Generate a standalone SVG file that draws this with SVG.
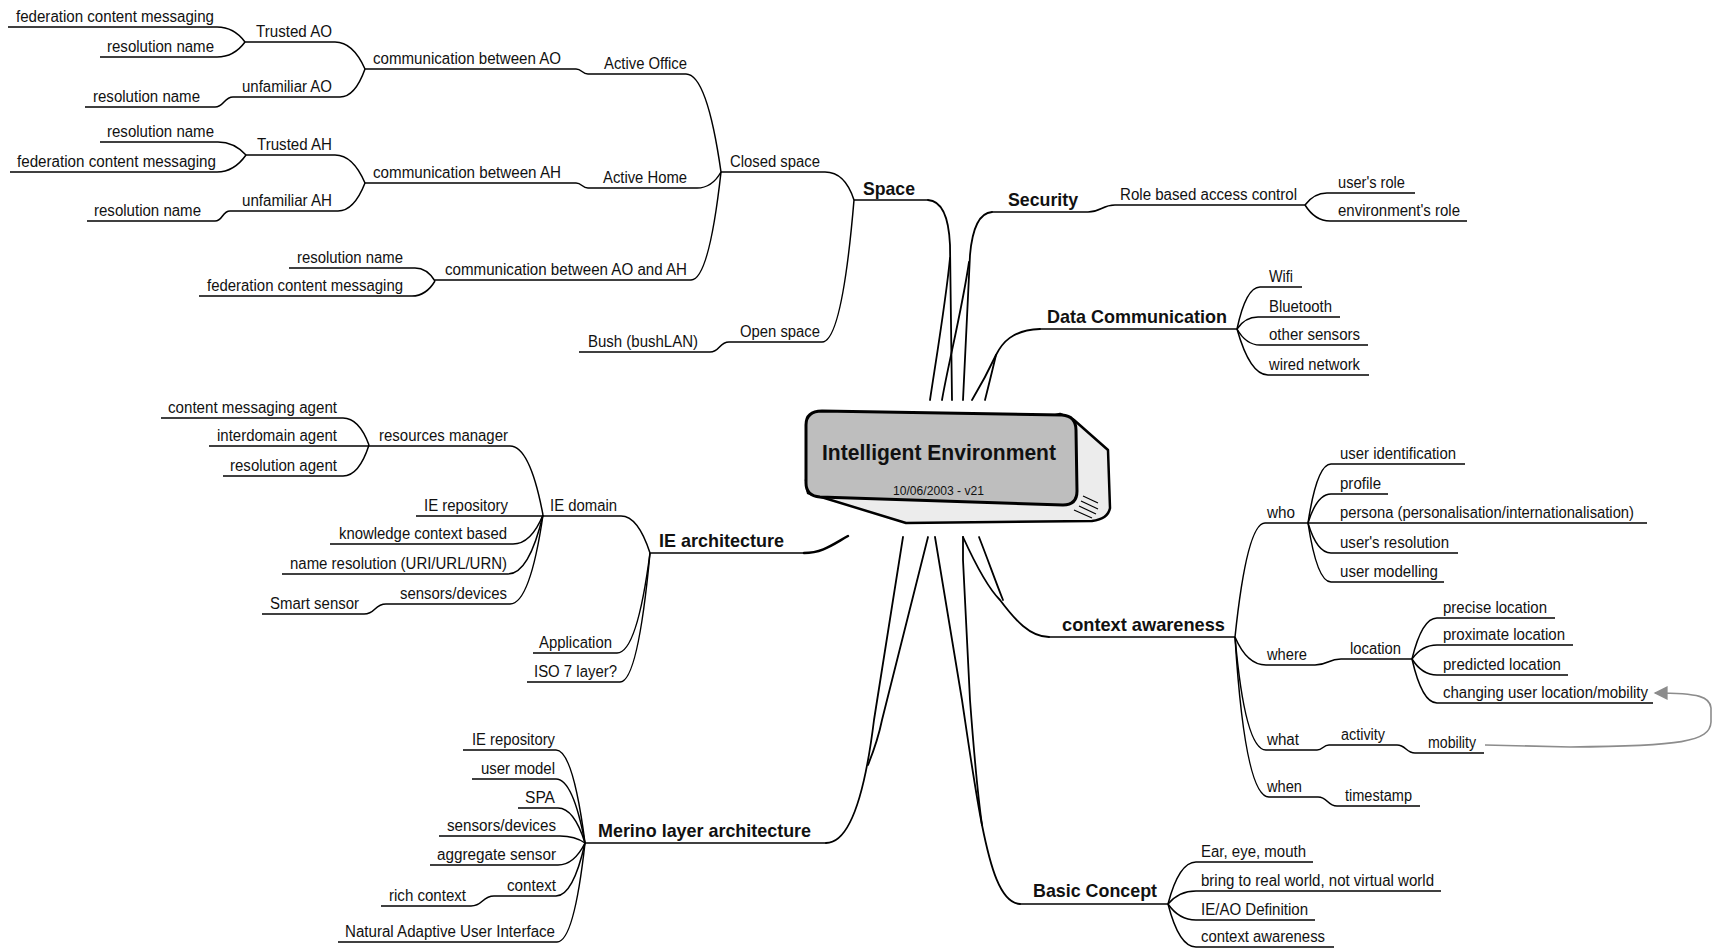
<svg xmlns="http://www.w3.org/2000/svg" width="1715" height="951" viewBox="0 0 1715 951">
<defs>
<style>
.t{font-family:"Liberation Sans",Arial,sans-serif;font-size:16px;fill:#111}
.b{font-family:"Liberation Sans",Arial,sans-serif;font-size:19px;font-weight:bold;fill:#111}
.ul{stroke:#000;stroke-width:1.7;fill:none}
.c{stroke:#000;stroke-width:1.5;fill:none}
.br{stroke:#000;stroke-width:1.8;fill:none;stroke-linecap:round}
.lnk{stroke:#8c8c8c;stroke-width:1.6;fill:none}
</style>
<marker id="tri" viewBox="0 0 10 10" refX="9" refY="5" markerUnits="userSpaceOnUse" markerWidth="16" markerHeight="14" orient="auto">
<path d="M0,0 L10,5 L0,10 z" fill="#8c8c8c"/>
</marker>
</defs>
<rect width="1715" height="951" fill="#fff"/>

<!-- branch lines and connectors -->
<g id="connectors">
<!-- main branches out of the central topic -->
<path class="br" d="M928,200 C944,201 949,222 950,245 L952,400"/>
<path class="br" d="M950,258 C946,300 936,360 930,400"/>
<path class="br" d="M992,212 C978,213 972,232 970,255 L963,400"/>
<path class="br" d="M969,262 C962,310 948,365 942,400"/>
<path class="br" d="M1040,329 C1012,330 1002,343 996,355 C988,372 978,390 972,400"/>
<path class="br" d="M996,355 C992,372 988,388 985,400"/>
<path class="br" d="M903,537 L874,720 C866,785 852,843 826,843"/>
<path class="br" d="M928,537 L882,720 C878,740 872,755 868,765"/>
<path class="br" d="M935,537 L962,700 C968,740 975,790 982,825 C990,865 1000,903 1020,904"/>
<path class="br" d="M963,537 L963,560 L970,700 C973,740 977,790 982,825"/>
<path class="br" d="M963,537 C978,570 990,590 1000,600 C1015,620 1030,637 1049,637"/>
<path class="br" d="M979,537 C988,560 995,580 1003,600"/>
<path class="br" style="stroke-width:2.5" d="M804,553 C822,553 832,545 848,536"/>
<!-- Space subtree -->
<path class="c" d="M217,27 Q234,27 245,42"/>
<path class="c" d="M217,57 Q234,57 245,42"/>
<path class="c" d="M335,42 Q353,42 365,69"/>
<path class="c" d="M340,97 Q355,97 365,69"/>
<path class="c" d="M215,107 C224,107 224,97 233,97"/>
<path class="c" d="M576,69 C582,69 582,74 588,74"/>
<path class="c" d="M686,74 Q707,74 721,172"/>
<path class="c" d="M218,142 Q234,142 246,155"/>
<path class="c" d="M217,172 Q234,172 246,155"/>
<path class="c" d="M335,155 Q353,155 365,183"/>
<path class="c" d="M338,211 Q354,211 365,183"/>
<path class="c" d="M215,221 C223,221 222,211 230,211"/>
<path class="c" d="M576,183 C582,183 582,188 588,188"/>
<path class="c" d="M697,188 Q712,188 721,172"/>
<path class="c" d="M415,268 Q427,268 435,281"/>
<path class="c" d="M412,296 Q426,296 435,281"/>
<path class="c" d="M691,280 Q709,280 721,172"/>
<path class="c" d="M825,172 Q845,172 854,200"/>
<path class="c" d="M822,342 Q842,342 854,200"/>
<path class="c" d="M710,352 C720,352 719,342 729,342"/>
<!-- Security / Data Communication -->
<path class="c" d="M1088,212 C1101,212 1102,205 1115,205"/>
<path class="c" d="M1327,193 Q1314,193 1305,205"/>
<path class="c" d="M1330,221 Q1315,221 1305,205"/>
<path class="c" d="M1260,287 Q1246,287 1237,329"/>
<path class="c" d="M1258,317 Q1245,317 1237,329"/>
<path class="c" d="M1260,345 Q1246,345 1237,329"/>
<path class="c" d="M1268,375 Q1250,375 1237,329"/>
<!-- IE architecture -->
<path class="c" d="M343,418 Q359,418 369,445"/>
<path class="c" d="M343,476 Q359,476 369,445"/>
<path class="c" d="M510,446 Q530,446 543,515"/>
<path class="c" d="M513,544 Q531,544 543,515"/>
<path class="c" d="M508,574 Q529,574 543,515"/>
<path class="c" d="M510,604 Q530,604 543,515"/>
<path class="c" d="M364,614 C376,614 374,604 386,604"/>
<path class="c" d="M621,516 Q638,516 650,553"/>
<path class="c" d="M617,653 Q637,653 650,553"/>
<path class="c" d="M620,682 Q638,682 650,553"/>
<!-- Merino layer architecture -->
<path class="c" d="M556,750 Q573,750 585,843"/>
<path class="c" d="M556,779 Q573,779 585,843"/>
<path class="c" d="M558,808 Q574,808 585,843"/>
<path class="c" d="M560,836 Q575,836 585,843"/>
<path class="c" d="M558,865 Q574,865 585,843"/>
<path class="c" d="M556,896 Q573,896 585,843"/>
<path class="c" d="M471,906 C483,906 482,896 494,896"/>
<path class="c" d="M557,942 Q574,942 585,843"/>
<!-- context awareness -->
<path class="c" d="M1265,523 Q1247,523 1235,637"/>
<path class="c" d="M1266,665 Q1247,665 1235,637"/>
<path class="c" d="M1266,750 Q1245,750 1235,637"/>
<path class="c" d="M1269,797 Q1245,797 1235,637"/>
<path class="c" d="M1315,665 C1328,665 1328,659 1341,659"/>
<path class="c" d="M1317,750 C1323,750 1323,745 1329,745"/>
<path class="c" d="M1318,797 C1328,797 1327,806 1337,806"/>
<path class="c" d="M1397,745 C1406,745 1406,753 1415,753"/>
<path class="c" d="M1331,464 Q1317,464 1308,523"/>
<path class="c" d="M1331,494 Q1317,494 1308,523"/>
<path class="c" d="M1331,553 Q1317,553 1308,523"/>
<path class="c" d="M1331,582 Q1317,582 1308,523"/>
<path class="c" d="M1437,618 Q1422,618 1412,659"/>
<path class="c" d="M1437,645 Q1422,645 1412,659"/>
<path class="c" d="M1437,675 Q1422,675 1412,659"/>
<path class="c" d="M1437,703 Q1422,703 1412,659"/>
<!-- Basic Concept -->
<path class="c" d="M1196,862 Q1179,862 1168,904"/>
<path class="c" d="M1196,891 Q1179,891 1168,904"/>
<path class="c" d="M1196,920 Q1179,920 1168,904"/>
<path class="c" d="M1196,947 Q1179,947 1168,904"/>
<!-- relationship link: mobility -> changing user location/mobility -->
<path class="lnk" marker-end="url(#tri)" d="M1485,745 L1570,747 C1680,746 1710,742 1711,722 L1711,708 C1710,697 1700,693 1655,693"/>
</g>

<!-- central topic -->
<g id="intelligent-environment">
<path d="M1060,414 L1074,420 L1108,450 L1110,508 Q1108,519 1092,521 L906,523 L808,493 L806,480 Z" fill="#ececec" stroke="#000" stroke-width="2.5" stroke-linejoin="round"/>
<path d="M822,411 L1062,415 Q1076,416 1076,430 L1077,491 Q1077,505 1063,505 L820,497 Q806,496 806,483 L806,425 Q806,411 822,411 Z" fill="#bebebe" stroke="#000" stroke-width="3"/>
<path d="M1083,496 L1098,503 M1081,501 L1098,509 M1079,506 L1096,514 M1074,510 L1092,518" stroke="#000" stroke-width="1.2"/>
<text class="b" x="822" y="460" style="font-size:22px" textLength="234" lengthAdjust="spacingAndGlyphs">Intelligent Environment</text>
<text class="t" x="893" y="495" style="font-size:13px" textLength="91" lengthAdjust="spacingAndGlyphs">10/06/2003 - v21</text>
</g>

<!-- Space -->
<g id="space"><text class="b" x="863" y="195" textLength="52" lengthAdjust="spacingAndGlyphs">Space</text><path class="ul" d="M854,200 H928"/></g>
<g id="closed-space"><text class="t" x="730" y="167" textLength="90" lengthAdjust="spacingAndGlyphs">Closed space</text><path class="ul" d="M721,172 H825"/></g>
<g id="open-space"><text class="t" x="740" y="337" textLength="80" lengthAdjust="spacingAndGlyphs">Open space</text><path class="ul" d="M729,342 H822"/></g>
<g id="bush"><text class="t" x="588" y="347" textLength="110" lengthAdjust="spacingAndGlyphs">Bush (bushLAN)</text><path class="ul" d="M579,352 H710"/></g>
<g id="active-office"><text class="t" x="604" y="69" textLength="83" lengthAdjust="spacingAndGlyphs">Active Office</text><path class="ul" d="M588,74 H686"/></g>
<g id="active-home"><text class="t" x="603" y="183" textLength="84" lengthAdjust="spacingAndGlyphs">Active Home</text><path class="ul" d="M588,188 H697"/></g>
<g id="comm-ao-ah"><text class="t" x="445" y="275" textLength="242" lengthAdjust="spacingAndGlyphs">communication between AO and AH</text><path class="ul" d="M435,280 H691"/></g>
<g id="comm-ao-ah-resolution"><text class="t" x="297" y="263" textLength="106" lengthAdjust="spacingAndGlyphs">resolution name</text><path class="ul" d="M289,268 H415"/></g>
<g id="comm-ao-ah-federation"><text class="t" x="207" y="291" textLength="196" lengthAdjust="spacingAndGlyphs">federation content messaging</text><path class="ul" d="M199,296 H412"/></g>
<g id="comm-ao"><text class="t" x="373" y="64" textLength="188" lengthAdjust="spacingAndGlyphs">communication between AO</text><path class="ul" d="M365,69 H576"/></g>
<g id="trusted-ao"><text class="t" x="256" y="37" textLength="76" lengthAdjust="spacingAndGlyphs">Trusted AO</text><path class="ul" d="M245,42 H335"/></g>
<g id="trusted-ao-federation"><text class="t" x="16" y="22" textLength="198" lengthAdjust="spacingAndGlyphs">federation content messaging</text><path class="ul" d="M8,27 H217"/></g>
<g id="trusted-ao-resolution"><text class="t" x="107" y="52" textLength="107" lengthAdjust="spacingAndGlyphs">resolution name</text><path class="ul" d="M100,57 H217"/></g>
<g id="unfamiliar-ao"><text class="t" x="242" y="92" textLength="90" lengthAdjust="spacingAndGlyphs">unfamiliar AO</text><path class="ul" d="M233,97 H340"/></g>
<g id="unfamiliar-ao-resolution"><text class="t" x="93" y="102" textLength="107" lengthAdjust="spacingAndGlyphs">resolution name</text><path class="ul" d="M85,107 H215"/></g>
<g id="comm-ah"><text class="t" x="373" y="178" textLength="188" lengthAdjust="spacingAndGlyphs">communication between AH</text><path class="ul" d="M365,183 H576"/></g>
<g id="trusted-ah"><text class="t" x="257" y="150" textLength="75" lengthAdjust="spacingAndGlyphs">Trusted AH</text><path class="ul" d="M246,155 H335"/></g>
<g id="trusted-ah-resolution"><text class="t" x="107" y="137" textLength="107" lengthAdjust="spacingAndGlyphs">resolution name</text><path class="ul" d="M100,142 H218"/></g>
<g id="trusted-ah-federation"><text class="t" x="17" y="167" textLength="199" lengthAdjust="spacingAndGlyphs">federation content messaging</text><path class="ul" d="M10,172 H217"/></g>
<g id="unfamiliar-ah"><text class="t" x="242" y="206" textLength="90" lengthAdjust="spacingAndGlyphs">unfamiliar AH</text><path class="ul" d="M230,211 H338"/></g>
<g id="unfamiliar-ah-resolution"><text class="t" x="94" y="216" textLength="107" lengthAdjust="spacingAndGlyphs">resolution name</text><path class="ul" d="M87,221 H215"/></g>

<!-- Security -->
<g id="security"><text class="b" x="1008" y="206" textLength="70" lengthAdjust="spacingAndGlyphs">Security</text><path class="ul" d="M992,212 H1088"/></g>
<g id="rbac"><text class="t" x="1120" y="200" textLength="177" lengthAdjust="spacingAndGlyphs">Role based access control</text><path class="ul" d="M1115,205 H1305"/></g>
<g id="users-role"><text class="t" x="1338" y="188" textLength="67" lengthAdjust="spacingAndGlyphs">user's role</text><path class="ul" d="M1327,193 H1415"/></g>
<g id="environments-role"><text class="t" x="1338" y="216" textLength="122" lengthAdjust="spacingAndGlyphs">environment's role</text><path class="ul" d="M1330,221 H1467"/></g>

<!-- Data Communication -->
<g id="data-communication"><text class="b" x="1047" y="323" textLength="180" lengthAdjust="spacingAndGlyphs">Data Communication</text><path class="ul" d="M1040,329 H1237"/></g>
<g id="wifi"><text class="t" x="1269" y="282" textLength="24" lengthAdjust="spacingAndGlyphs">Wifi</text><path class="ul" d="M1260,287 H1302"/></g>
<g id="bluetooth"><text class="t" x="1269" y="312" textLength="63" lengthAdjust="spacingAndGlyphs">Bluetooth</text><path class="ul" d="M1258,317 H1340"/></g>
<g id="other-sensors"><text class="t" x="1269" y="340" textLength="91" lengthAdjust="spacingAndGlyphs">other sensors</text><path class="ul" d="M1260,345 H1368"/></g>
<g id="wired-network"><text class="t" x="1269" y="370" textLength="91" lengthAdjust="spacingAndGlyphs">wired network</text><path class="ul" d="M1268,375 H1369"/></g>

<!-- IE architecture -->
<g id="ie-architecture"><text class="b" x="659" y="547" textLength="125" lengthAdjust="spacingAndGlyphs">IE architecture</text><path class="ul" d="M650,553 H804"/></g>
<g id="ie-domain"><text class="t" x="550" y="511" textLength="67" lengthAdjust="spacingAndGlyphs">IE domain</text><path class="ul" d="M543,516 H621"/></g>
<g id="resources-manager"><text class="t" x="379" y="441" textLength="129" lengthAdjust="spacingAndGlyphs">resources manager</text><path class="ul" d="M369,446 H510"/></g>
<g id="content-messaging-agent"><text class="t" x="168" y="413" textLength="169" lengthAdjust="spacingAndGlyphs">content messaging agent</text><path class="ul" d="M161,418 H343"/></g>
<g id="interdomain-agent"><text class="t" x="217" y="441" textLength="120" lengthAdjust="spacingAndGlyphs">interdomain agent</text><path class="ul" d="M209,446 H369"/></g>
<g id="resolution-agent"><text class="t" x="230" y="471" textLength="107" lengthAdjust="spacingAndGlyphs">resolution agent</text><path class="ul" d="M223,476 H343"/></g>
<g id="ie-repository-a"><text class="t" x="424" y="511" textLength="84" lengthAdjust="spacingAndGlyphs">IE repository</text><path class="ul" d="M416,516 H543"/></g>
<g id="knowledge-context"><text class="t" x="339" y="539" textLength="168" lengthAdjust="spacingAndGlyphs">knowledge context based</text><path class="ul" d="M330,544 H513"/></g>
<g id="name-resolution"><text class="t" x="290" y="569" textLength="217" lengthAdjust="spacingAndGlyphs">name resolution (URI/URL/URN)</text><path class="ul" d="M282,574 H508"/></g>
<g id="sensors-devices-a"><text class="t" x="400" y="599" textLength="107" lengthAdjust="spacingAndGlyphs">sensors/devices</text><path class="ul" d="M386,604 H510"/></g>
<g id="smart-sensor"><text class="t" x="270" y="609" textLength="89" lengthAdjust="spacingAndGlyphs">Smart sensor</text><path class="ul" d="M262,614 H364"/></g>
<g id="application"><text class="t" x="539" y="648" textLength="73" lengthAdjust="spacingAndGlyphs">Application</text><path class="ul" d="M533,653 H617"/></g>
<g id="iso-7-layer"><text class="t" x="534" y="677" textLength="83" lengthAdjust="spacingAndGlyphs">ISO 7 layer?</text><path class="ul" d="M527,682 H620"/></g>

<!-- Merino layer architecture -->
<g id="merino"><text class="b" x="598" y="837" textLength="213" lengthAdjust="spacingAndGlyphs">Merino layer architecture</text><path class="ul" d="M585,843 H826"/></g>
<g id="ie-repository-m"><text class="t" x="472" y="745" textLength="83" lengthAdjust="spacingAndGlyphs">IE repository</text><path class="ul" d="M463,750 H556"/></g>
<g id="user-model"><text class="t" x="481" y="774" textLength="74" lengthAdjust="spacingAndGlyphs">user model</text><path class="ul" d="M472,779 H556"/></g>
<g id="spa"><text class="t" x="525" y="803" textLength="30" lengthAdjust="spacingAndGlyphs">SPA</text><path class="ul" d="M518,808 H558"/></g>
<g id="sensors-devices-m"><text class="t" x="447" y="831" textLength="109" lengthAdjust="spacingAndGlyphs">sensors/devices</text><path class="ul" d="M439,836 H560"/></g>
<g id="aggregate-sensor"><text class="t" x="437" y="860" textLength="119" lengthAdjust="spacingAndGlyphs">aggregate sensor</text><path class="ul" d="M430,865 H558"/></g>
<g id="context"><text class="t" x="507" y="891" textLength="49" lengthAdjust="spacingAndGlyphs">context</text><path class="ul" d="M494,896 H556"/></g>
<g id="rich-context"><text class="t" x="389" y="901" textLength="77" lengthAdjust="spacingAndGlyphs">rich context</text><path class="ul" d="M381,906 H471"/></g>
<g id="naui"><text class="t" x="345" y="937" textLength="210" lengthAdjust="spacingAndGlyphs">Natural Adaptive User Interface</text><path class="ul" d="M338,942 H557"/></g>

<!-- context awareness -->
<g id="context-awareness"><text class="b" x="1062" y="631" textLength="163" lengthAdjust="spacingAndGlyphs">context awareness</text><path class="ul" d="M1049,637 H1235"/></g>
<g id="who"><text class="t" x="1267" y="518" textLength="28" lengthAdjust="spacingAndGlyphs">who</text><path class="ul" d="M1265,523 H1308"/></g>
<g id="user-identification"><text class="t" x="1340" y="459" textLength="116" lengthAdjust="spacingAndGlyphs">user identification</text><path class="ul" d="M1331,464 H1465"/></g>
<g id="profile"><text class="t" x="1340" y="489" textLength="41" lengthAdjust="spacingAndGlyphs">profile</text><path class="ul" d="M1331,494 H1388"/></g>
<g id="persona"><text class="t" x="1340" y="518" textLength="294" lengthAdjust="spacingAndGlyphs">persona (personalisation/internationalisation)</text><path class="ul" d="M1308,523 H1647"/></g>
<g id="users-resolution"><text class="t" x="1340" y="548" textLength="109" lengthAdjust="spacingAndGlyphs">user's resolution</text><path class="ul" d="M1331,553 H1458"/></g>
<g id="user-modelling"><text class="t" x="1340" y="577" textLength="98" lengthAdjust="spacingAndGlyphs">user modelling</text><path class="ul" d="M1331,582 H1444"/></g>
<g id="where"><text class="t" x="1267" y="660" textLength="40" lengthAdjust="spacingAndGlyphs">where</text><path class="ul" d="M1266,665 H1315"/></g>
<g id="location"><text class="t" x="1350" y="654" textLength="51" lengthAdjust="spacingAndGlyphs">location</text><path class="ul" d="M1341,659 H1412"/></g>
<g id="precise-location"><text class="t" x="1443" y="613" textLength="104" lengthAdjust="spacingAndGlyphs">precise location</text><path class="ul" d="M1437,618 H1555"/></g>
<g id="proximate-location"><text class="t" x="1443" y="640" textLength="122" lengthAdjust="spacingAndGlyphs">proximate location</text><path class="ul" d="M1437,645 H1573"/></g>
<g id="predicted-location"><text class="t" x="1443" y="670" textLength="118" lengthAdjust="spacingAndGlyphs">predicted location</text><path class="ul" d="M1437,675 H1568"/></g>
<g id="changing-location"><text class="t" x="1443" y="698" textLength="205" lengthAdjust="spacingAndGlyphs">changing user location/mobility</text><path class="ul" d="M1437,703 H1653"/></g>
<g id="what"><text class="t" x="1267" y="745" textLength="32" lengthAdjust="spacingAndGlyphs">what</text><path class="ul" d="M1266,750 H1317"/></g>
<g id="activity"><text class="t" x="1341" y="740" textLength="44" lengthAdjust="spacingAndGlyphs">activity</text><path class="ul" d="M1329,745 H1397"/></g>
<g id="mobility"><text class="t" x="1428" y="748" textLength="48" lengthAdjust="spacingAndGlyphs">mobility</text><path class="ul" d="M1415,753 H1484"/></g>
<g id="when"><text class="t" x="1267" y="792" textLength="35" lengthAdjust="spacingAndGlyphs">when</text><path class="ul" d="M1269,797 H1318"/></g>
<g id="timestamp"><text class="t" x="1345" y="801" textLength="67" lengthAdjust="spacingAndGlyphs">timestamp</text><path class="ul" d="M1337,806 H1420"/></g>

<!-- Basic Concept -->
<g id="basic-concept"><text class="b" x="1033" y="897" textLength="124" lengthAdjust="spacingAndGlyphs">Basic Concept</text><path class="ul" d="M1020,904 H1168"/></g>
<g id="ear-eye-mouth"><text class="t" x="1201" y="857" textLength="105" lengthAdjust="spacingAndGlyphs">Ear, eye, mouth</text><path class="ul" d="M1196,862 H1313"/></g>
<g id="real-world"><text class="t" x="1201" y="886" textLength="233" lengthAdjust="spacingAndGlyphs">bring to real world, not virtual world</text><path class="ul" d="M1196,891 H1441"/></g>
<g id="ie-ao-definition"><text class="t" x="1201" y="915" textLength="107" lengthAdjust="spacingAndGlyphs">IE/AO Definition</text><path class="ul" d="M1196,920 H1315"/></g>
<g id="basic-context-awareness"><text class="t" x="1201" y="942" textLength="124" lengthAdjust="spacingAndGlyphs">context awareness</text><path class="ul" d="M1196,947 H1334"/></g>
</svg>
